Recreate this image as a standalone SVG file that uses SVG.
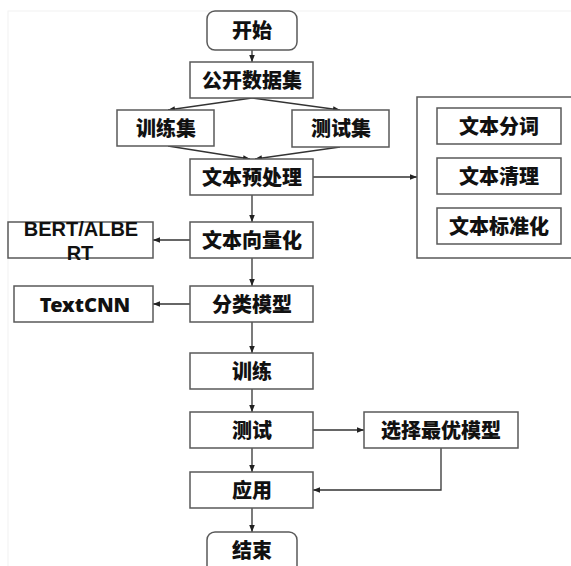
<svg xmlns="http://www.w3.org/2000/svg" width="571" height="566" viewBox="0 0 571 566">
<defs>
<style>
.b{fill:#fff;stroke:#595959;stroke-width:1.5}
.t{font-family:"Noto Sans","Noto Sans CJK SC",sans-serif;font-weight:900;font-size:20px;fill:#111;text-anchor:middle;dominant-baseline:central}
.c{fill:none;stroke:#333;stroke-width:1.3}
</style>
<marker id="a" viewBox="0 0 10 10" refX="10" refY="5" markerWidth="7" markerHeight="7" markerUnits="userSpaceOnUse" orient="auto">
<path d="M0,1 L10,5 L0,9 Z" fill="#222"/>
</marker>
</defs>
<rect x="0" y="0" width="571" height="566" fill="#fff"/>
<rect x="8" y="11" width="580" height="570" fill="none" stroke="#f2f2f2" stroke-width="1"/>
<g id="connectors">
<path class="c" d="M252,50 V62" marker-end="url(#a)"/>
<path class="c" d="M252,98 L168,110" marker-end="url(#a)"/>
<path class="c" d="M252,98 L340,110" marker-end="url(#a)"/>
<path class="c" d="M168,146 L250,159" marker-end="url(#a)"/>
<path class="c" d="M340,147 L255,159" marker-end="url(#a)"/>
<path class="c" d="M313,177 H417" marker-end="url(#a)"/>
<path class="c" d="M252,195 V222" marker-end="url(#a)"/>
<path class="c" d="M190,240 H153" marker-end="url(#a)"/>
<path class="c" d="M252,258 V286" marker-end="url(#a)"/>
<path class="c" d="M190,304 H153" marker-end="url(#a)"/>
<path class="c" d="M252,322 V353" marker-end="url(#a)"/>
<path class="c" d="M252,389 V412" marker-end="url(#a)"/>
<path class="c" d="M313,430 H364" marker-end="url(#a)"/>
<path class="c" d="M252,448 V472" marker-end="url(#a)"/>
<path class="c" d="M441,448 V490 H313" marker-end="url(#a)"/>
<path class="c" d="M252,508 V532" marker-end="url(#a)"/>
</g>
<g id="start"><rect class="b" x="207" y="11" width="90" height="39" rx="8"/><text class="t" x="252" y="30">开始</text></g>
<g id="dataset"><rect class="b" x="190" y="62" width="123" height="36"/><text class="t" x="252" y="80">公开数据集</text></g>
<g id="train-set"><rect class="b" x="117" y="110" width="97" height="36"/><text class="t" x="166" y="128">训练集</text></g>
<g id="test-set"><rect class="b" x="292" y="110" width="97" height="37"/><text class="t" x="341" y="128">测试集</text></g>
<g id="preprocess"><rect class="b" x="190" y="159" width="123" height="36"/><text class="t" x="252" y="177">文本预处理</text></g>
<g id="preprocess-steps">
<rect class="b" x="417" y="97" width="170" height="161"/>
<rect class="b" x="437" y="108" width="124" height="36"/><text class="t" x="499" y="126">文本分词</text>
<rect class="b" x="437" y="158" width="124" height="36"/><text class="t" x="499" y="176">文本清理</text>
<rect class="b" x="437" y="208" width="124" height="36"/><text class="t" x="499" y="226">文本标准化</text>
</g>
<g id="vectorize"><rect class="b" x="190" y="222" width="123" height="36"/><text class="t" x="252" y="240">文本向量化</text></g>
<g id="bert"><rect class="b" x="8" y="222" width="145" height="36"/><text class="t" style="font-family:'Liberation Sans',Arial,sans-serif;font-weight:bold;font-size:20px"><tspan x="81" y="229">BERT/ALBE</tspan><tspan x="80" y="253">RT</tspan></text></g>
<g id="classifier"><rect class="b" x="190" y="286" width="123" height="36"/><text class="t" x="252" y="304">分类模型</text></g>
<g id="textcnn"><rect class="b" x="14" y="286" width="139" height="36"/><text class="t" x="85" y="304">TextCNN</text></g>
<g id="train"><rect class="b" x="190" y="353" width="123" height="36"/><text class="t" x="252" y="371">训练</text></g>
<g id="test"><rect class="b" x="190" y="412" width="123" height="36"/><text class="t" x="252" y="430">测试</text></g>
<g id="select"><rect class="b" x="364" y="412" width="154" height="36"/><text class="t" x="441" y="430">选择最优模型</text></g>
<g id="apply"><rect class="b" x="190" y="472" width="123" height="36"/><text class="t" x="252" y="490">应用</text></g>
<g id="end"><rect class="b" x="207" y="532" width="90" height="50" rx="8"/><text class="t" x="252" y="550">结束</text></g>
</svg>
